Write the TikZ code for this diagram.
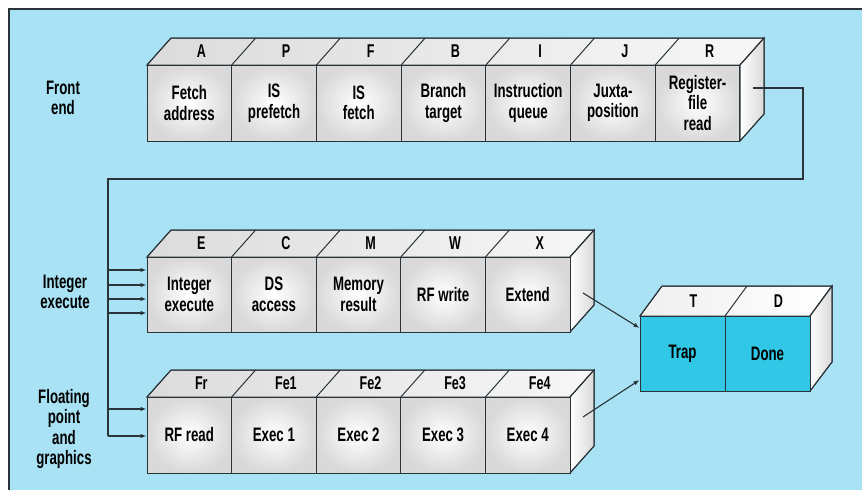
\documentclass[tikz,border=0pt]{standalone}
\usepackage{fontspec}
\setmainfont{Liberation Sans}[FakeStretch=0.68]
\usetikzlibrary{arrows.meta,calc}
\definecolor{bgblue}{HTML}{A8E2F4}
\definecolor{trapcyan}{HTML}{30C8E6}
\definecolor{ink}{HTML}{2A3438}
\begin{document}
\begin{tikzpicture}[x=1pt,y=-1pt,
  txt/.style={font=\fontsize{19.5}{20.5}\selectfont\bfseries, text=black, align=center, inner sep=0pt},
  cell/.style={txt, draw=ink, line width=1pt, minimum width=84.7pt, minimum height=76pt, shading=radial, inner color=white, outer color=gray!30},
  tcell/.style={txt, draw=ink, line width=1pt, minimum width=85pt, minimum height=75pt, fill=trapcyan},
  lbl/.style={txt, font=\fontsize{18.5}{20}\selectfont\bfseries},
  side/.style={txt},
  topface/.style={draw=ink, line width=1pt, left color=gray!28, right color=gray!6},
  sideface/.style={draw=ink, line width=1pt, left color=white, right color=gray!30},
  wire/.style={draw=ink, line width=1.1pt},
  arr/.style={wire, -{Latex[length=6pt,width=4.5pt]}}]
\useasboundingbox (0,0) rectangle (862,490);
\fill[white] (0,0) rectangle (862,490);
\fill[bgblue] (9,9) rectangle (862,490);
\draw[ink, line width=1.2pt] (9,490) -- (9,9) -- (862,9);

% ---------- Front end row ----------
\def\wa{84.71}
\fill[topface] (147,65) -- (171,38) -- (764,38) -- (740,65) -- cycle;
\fill[sideface] (740,65) -- (764,38) -- (764,114) -- (740,141) -- cycle;
\foreach \t/\l [count=\i] in {A/{Fetch\\address}, P/{IS\\prefetch}, F/{IS\\fetch}, B/{Branch\\target}, I/{Instruction\\queue}, J/{Juxta-\\position}, R/{Register-\\file\\read}} {
  \node[cell, minimum width=\wa pt] (f\i) at ({147+(\i-0.5)*\wa}, 103) {\l};
  \node[lbl] (tf\i) at ({147+(\i-0.5)*\wa+12}, 51.5) {\t};
}
\foreach \i in {0,...,7} \draw[ink, line width=1pt] ({147+\i*\wa},65) -- ({171+\i*\wa},38);
\draw[ink, line width=1pt] (171,38) -- (764,38) -- (764,114) -- (740,141);
\node[side] (lfront) at (63,98) {Front\\end};

% ---------- Integer row ----------
\def\wb{84.6}
\fill[topface] (147,257) -- (171,230) -- (594,230) -- (570,257) -- cycle;
\fill[sideface] (570,257) -- (594,230) -- (594,305) -- (570,332) -- cycle;
\foreach \t/\l [count=\i] in {E/{Integer\\execute}, C/{DS\\access}, M/{Memory\\result}, W/{RF write}, X/{Extend}} {
  \node[cell, minimum width=\wb pt, minimum height=75pt] (e\i) at ({147+(\i-0.5)*\wb}, 294.5) {\l};
  \node[lbl] (te\i) at ({147+(\i-0.5)*\wb+12}, 243.5) {\t};
}
\foreach \i in {0,...,5} \draw[ink, line width=1pt] ({147+\i*\wb},257) -- ({171+\i*\wb},230);
\draw[ink, line width=1pt] (171,230) -- (594,230) -- (594,305) -- (570,332);
\node[side] (lint) at (65,292) {Integer\\execute};

% ---------- Floating point row ----------
\fill[topface] (147,397) -- (171,370) -- (594,370) -- (570,397) -- cycle;
\fill[sideface] (570,397) -- (594,370) -- (594,446) -- (570,473) -- cycle;
\foreach \t/\l [count=\i] in {Fr/{RF read}, Fe1/{Exec 1}, Fe2/{Exec 2}, Fe3/{Exec 3}, Fe4/{Exec 4}} {
  \node[cell, minimum width=\wb pt] (p\i) at ({147+(\i-0.5)*\wb}, 435) {\l};
  \node[lbl] (tp\i) at ({147+(\i-0.5)*\wb+12}, 383.5) {\t};
}
\foreach \i in {0,...,5} \draw[ink, line width=1pt] ({147+\i*\wb},397) -- ({171+\i*\wb},370);
\draw[ink, line width=1pt] (171,370) -- (594,370) -- (594,446) -- (570,473);
\node[side] (lfloat) at (64,429) {Floating\\point\\and\\graphics};

% ---------- Trap / Done ----------
\fill[draw=ink, line width=1pt, left color=gray!12, right color=white] (640,316) -- (662,286) -- (832,286) -- (810,316) -- cycle;
\fill[sideface] (810,316) -- (832,286) -- (832,362) -- (810,391) -- cycle;
\node[tcell] (trap) at (682.5,353.5) {Trap};
\node[tcell] (done) at (767.5,353.5) {Done};
\node[lbl] (tT) at (693.5,301) {T};
\node[lbl] (tD) at (778.5,301) {D};
\foreach \x in {640,725,810} \draw[ink, line width=1pt] (\x,316) -- (\x+22,286);
\draw[ink, line width=1pt] (662,286) -- (832,286) -- (832,362) -- (810,391);

% ---------- Connectors ----------
\coordinate (rout) at (753,88);
\coordinate (rc) at (803,179);
\coordinate (busTop) at (108,179);
\coordinate (busBot) at (108,436);
\draw[wire] (rout) -| (rc) -- (busTop) -- (busBot);
\foreach \y in {270,285,299,313} \draw[arr] (108,\y) -- (e1.west |- 0,\y);
\foreach \y in {409,436} \draw[arr] (108,\y) -- (p1.west |- 0,\y);
\coordinate (xout) at (583,293);
\coordinate (pout) at (583,417);
\draw[arr] (xout) -- (trap.west |- 0,328);
\draw[arr] (pout) -- (trap.west |- 0,380);
\end{tikzpicture}
\end{document}
